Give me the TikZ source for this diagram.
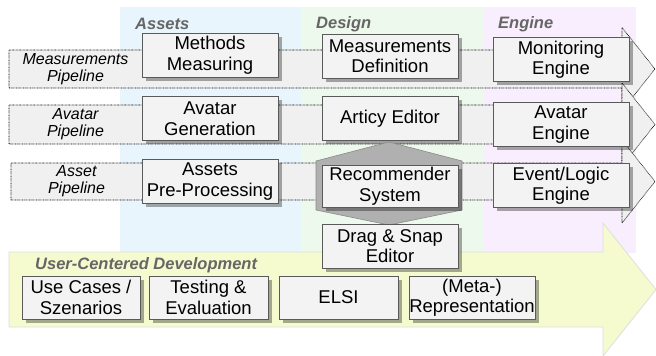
\documentclass[tikz,border=0pt]{standalone}
\usepackage{fontspec}
\setmainfont{Liberation Sans}
\usetikzlibrary{shadows}

\definecolor{colAssets}{HTML}{E8F5FD}
\definecolor{colDesign}{HTML}{EDF9EC}
\definecolor{colEngine}{HTML}{F9EEFD}
\definecolor{ucdFill}{HTML}{F5FBCF}
\definecolor{ucdDraw}{HTML}{DEDEDE}
\definecolor{pipeFill}{HTML}{F0F0F0}
\definecolor{boxFill}{HTML}{F3F3F3}
\definecolor{boxDraw}{HTML}{5A5A5A}
\definecolor{headGrey}{HTML}{666666}
\definecolor{hexFill}{HTML}{B0B0B0}
\definecolor{hexDraw}{HTML}{8A8A8A}

\tikzset{
  compbox/.style={draw=boxDraw, line width=0.8pt, fill=boxFill,
    drop shadow={shadow xshift=3.5pt, shadow yshift=-3.5pt, fill=black, opacity=0.33},
    align=center, inner sep=0pt, minimum width=136pt, minimum height=44pt,
    font=\fontsize{18.5}{20.5}\selectfont},
  pipe/.style={draw=black, line width=0.6pt, dash pattern=on 0.7pt off 0.7pt, fill=pipeFill},
  pipelabel/.style={align=center, inner sep=0pt, font=\fontsize{16}{17}\selectfont\itshape},
  colhead/.style={anchor=west, inner sep=0pt, text=headGrey,
    font=\fontsize{16.5}{18}\selectfont\bfseries\itshape},
}

\begin{document}
\begin{tikzpicture}[x=1pt, y=-1pt]
\useasboundingbox (0,0) rectangle (656,356);

% column backgrounds
\fill[colAssets] (120,7) rectangle (301,253);
\fill[colDesign] (301,7) rectangle (483,253);
\fill[colEngine] (483,7) rectangle (636,253);

% user-centered development arrow
\draw[fill=ucdFill, draw=ucdDraw, line width=0.8pt]
  (9,252) -- (603,252) -- (603,223) -- (656,289.5) -- (603,356) -- (603,327) -- (9,327) -- cycle;

% column headers
\node[colhead] (hAssets) at (135,24) {Assets};
\node[colhead] (hDesign) at (316,24) {Design};
\node[colhead] (hEngine) at (498,24) {Engine};

% pipelines
\draw[pipe] (9,50) -- (622,50) -- (622,27.5) -- (655,69) -- (622,110.5) -- (622,88) -- (9,88) -- cycle;
\draw[pipe] (9,105) -- (622,105) -- (622,83) -- (655,124.5) -- (622,166) -- (622,144) -- (9,144) -- cycle;
\draw[pipe] (11,163) -- (622,163) -- (622,140) -- (655,181.5) -- (622,223) -- (622,200) -- (11,200) -- cycle;

\node[pipelabel] (lMeas) at (75.5,69) {Measurements\\Pipeline};
\node[pipelabel] (lAvat) at (75.5,124.5) {Avatar\\Pipeline};
\node[pipelabel] (lAsset) at (76.5,181.5) {Asset\\Pipeline};

% assets column
\node[compbox] (mm)  at (210,55)   {Methods\\Measuring};
\node[compbox] (ag)  at (210,118.5) {Avatar\\Generation};
\node[compbox] (app) at (210,181.5) {Assets\\Pre-Processing};

% design column
\node[compbox] (md)  at (390,56)   {Measurements\\Definition};
\node[compbox] (ae)  at (390,118.5) {Articy Editor};
\draw[fill=hexFill, draw=hexDraw, line width=0.6pt]
  (389,142) -- (462,161) -- (462,210) -- (389,225) -- (316,210) -- (316,161) -- cycle;
\node[compbox, minimum height=42pt] (rs) at (390,186) {Recommender\\System};
\node[compbox] (dse) at (390,246) {Drag \& Snap\\Editor};

% engine column
\node[compbox] (me)  at (561,59.5) {Monitoring\\Engine};
\node[compbox] (ave) at (561,124.5) {Avatar\\Engine};
\node[compbox] (ele) at (561,185.5) {Event/Logic\\Engine};

% user-centered development
\node[colhead] (hUcd) at (35,265) {User-Centered Development};
\node[compbox, minimum width=118pt, minimum height=43pt] (uc)   at (81,297.5)  {Use Cases /\\Szenarios};
\node[compbox, minimum width=119pt, minimum height=43pt] (te)   at (208.5,297.5) {Testing \&\\Evaluation};
\node[compbox, minimum width=119pt, minimum height=43pt] (elsi) at (338.5,297.5) {ELSI};
\node[compbox, minimum width=126pt, minimum height=43pt] (mr)   at (472,297.5) {(Meta-)\\Representation};
\end{tikzpicture}
\end{document}
